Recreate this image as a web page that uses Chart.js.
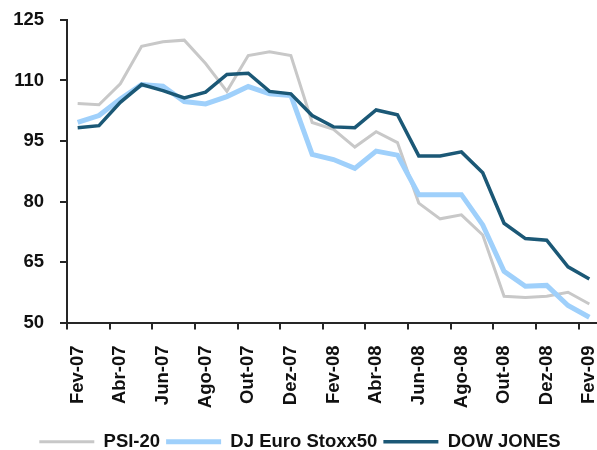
<!DOCTYPE html>
<html lang="pt">
<head>
<meta charset="utf-8">
<title>PSI-20, DJ Euro Stoxx50 e Dow Jones</title>
<script src="https://cdn.jsdelivr.net/npm/chart.js@4/dist/chart.umd.min.js"></script>
<style>
  html, body { margin: 0; padding: 0; background: #fff; overflow: hidden; }
  #grafico { display: block; }
</style>
</head>
<body>
<canvas id="grafico" width="604" height="461"></canvas>
<script>
/* ── DADOS (base 100) ── */
const meses = ['Fev-07','Mar-07','Abr-07','Mai-07','Jun-07','Jul-07','Ago-07','Set-07','Out-07','Nov-07','Dez-07','Jan-08',
               'Fev-08','Mar-08','Abr-08','Mai-08','Jun-08','Jul-08','Ago-08','Set-08','Out-08','Nov-08','Dez-08','Jan-09','Fev-09'];

const psi20    = [104.3, 104.0, 109.2, 118.5, 119.6, 120.0, 114.2, 107.3, 116.2, 117.1, 116.2, 99.6,
                  97.9, 93.5, 97.3, 94.6, 79.6, 75.7, 76.7, 71.7, 56.5, 56.2, 56.5, 57.5, 54.6];
const stoxx50  = [99.6, 101.3, 105.4, 109.0, 108.6, 104.8, 104.2, 106.0, 108.5, 106.7, 106.3, 91.7,
                  90.4, 88.2, 92.5, 91.5, 81.7, 81.7, 81.7, 74.2, 62.7, 59.0, 59.2, 54.2, 51.3];
const dowJones = [98.3, 98.8, 104.6, 109.0, 107.5, 105.7, 107.1, 111.5, 111.8, 107.3, 106.7, 101.3,
                  98.5, 98.3, 102.7, 101.5, 91.3, 91.3, 92.3, 87.1, 74.6, 70.8, 70.4, 63.8, 60.8];

const eixoY = { min: 50, max: 125, passo: 15 };

/* ── ESTILO ── */
const corTexto = '#111';
const corEixo = '#262626';
const fonte = { family: "'Liberation Sans', Arial, sans-serif", size: 18.5, weight: 'bold' };

function serie(label, data, cor, largura, ordem) {
  return {
    label, data,
    borderColor: cor, backgroundColor: cor,
    borderWidth: largura, pointRadius: 0, pointHoverRadius: 0,
    tension: 0, fill: false, order: ordem,
    pointStyle: 'line'
  };
}

/* ── GRÁFICO ── */
new Chart(document.getElementById('grafico'), {
  type: 'line',
  data: {
    labels: meses,
    datasets: [
      serie('PSI-20', psi20, '#c8c8c8', 3, 3),
      serie('DJ Euro Stoxx50', stoxx50, '#9fd0fb', 5, 2),
      serie('DOW JONES', dowJones, '#1b5876', 3.5, 1)
    ]
  },
  options: {
    responsive: false,
    animation: false,
    layout: { padding: { top: 20, right: 4, bottom: 0, left: 0 } },
    plugins: {
      tooltip: { enabled: false },
      legend: {
        position: 'bottom',
        labels: {
          usePointStyle: true,
          pointStyleWidth: 55,
          padding: 6,
          color: corTexto,
          font: fonte,
          sort: (a, b) => a.datasetIndex - b.datasetIndex
        }
      }
    },
    scales: {
      x: {
        type: 'category',
        offset: true,
        grid: {
          offset: true,
          drawOnChartArea: false,
          tickLength: 7,
          lineWidth: 2,
          // marca só de dois em dois meses
          color: ctx => ctx.index % 2 === 0 ? corEixo : 'rgba(0,0,0,0)'
        },
        border: { color: corEixo, width: 2 },
        ticks: {
          autoSkip: false,
          minRotation: 90,
          maxRotation: 90,
          padding: 16,
          color: corTexto,
          font: fonte,
          callback: (v, i) => i % 2 === 0 ? meses[i] : ''
        },
        afterFit: s => { s.height = 104; s.paddingLeft = 0; s.paddingRight = 0; }
      },
      y: {
        min: eixoY.min,
        max: eixoY.max,
        grid: { drawOnChartArea: false, tickLength: 7, lineWidth: 2, color: corEixo },
        border: { color: corEixo, width: 2 },
        ticks: {
          stepSize: eixoY.passo,
          padding: 16,
          color: corTexto,
          font: fonte
        },
        afterFit: s => { s.width = 67; s.paddingTop = 0; s.paddingBottom = 0; }
      }
    }
  }
});
</script>
</body>
</html>
